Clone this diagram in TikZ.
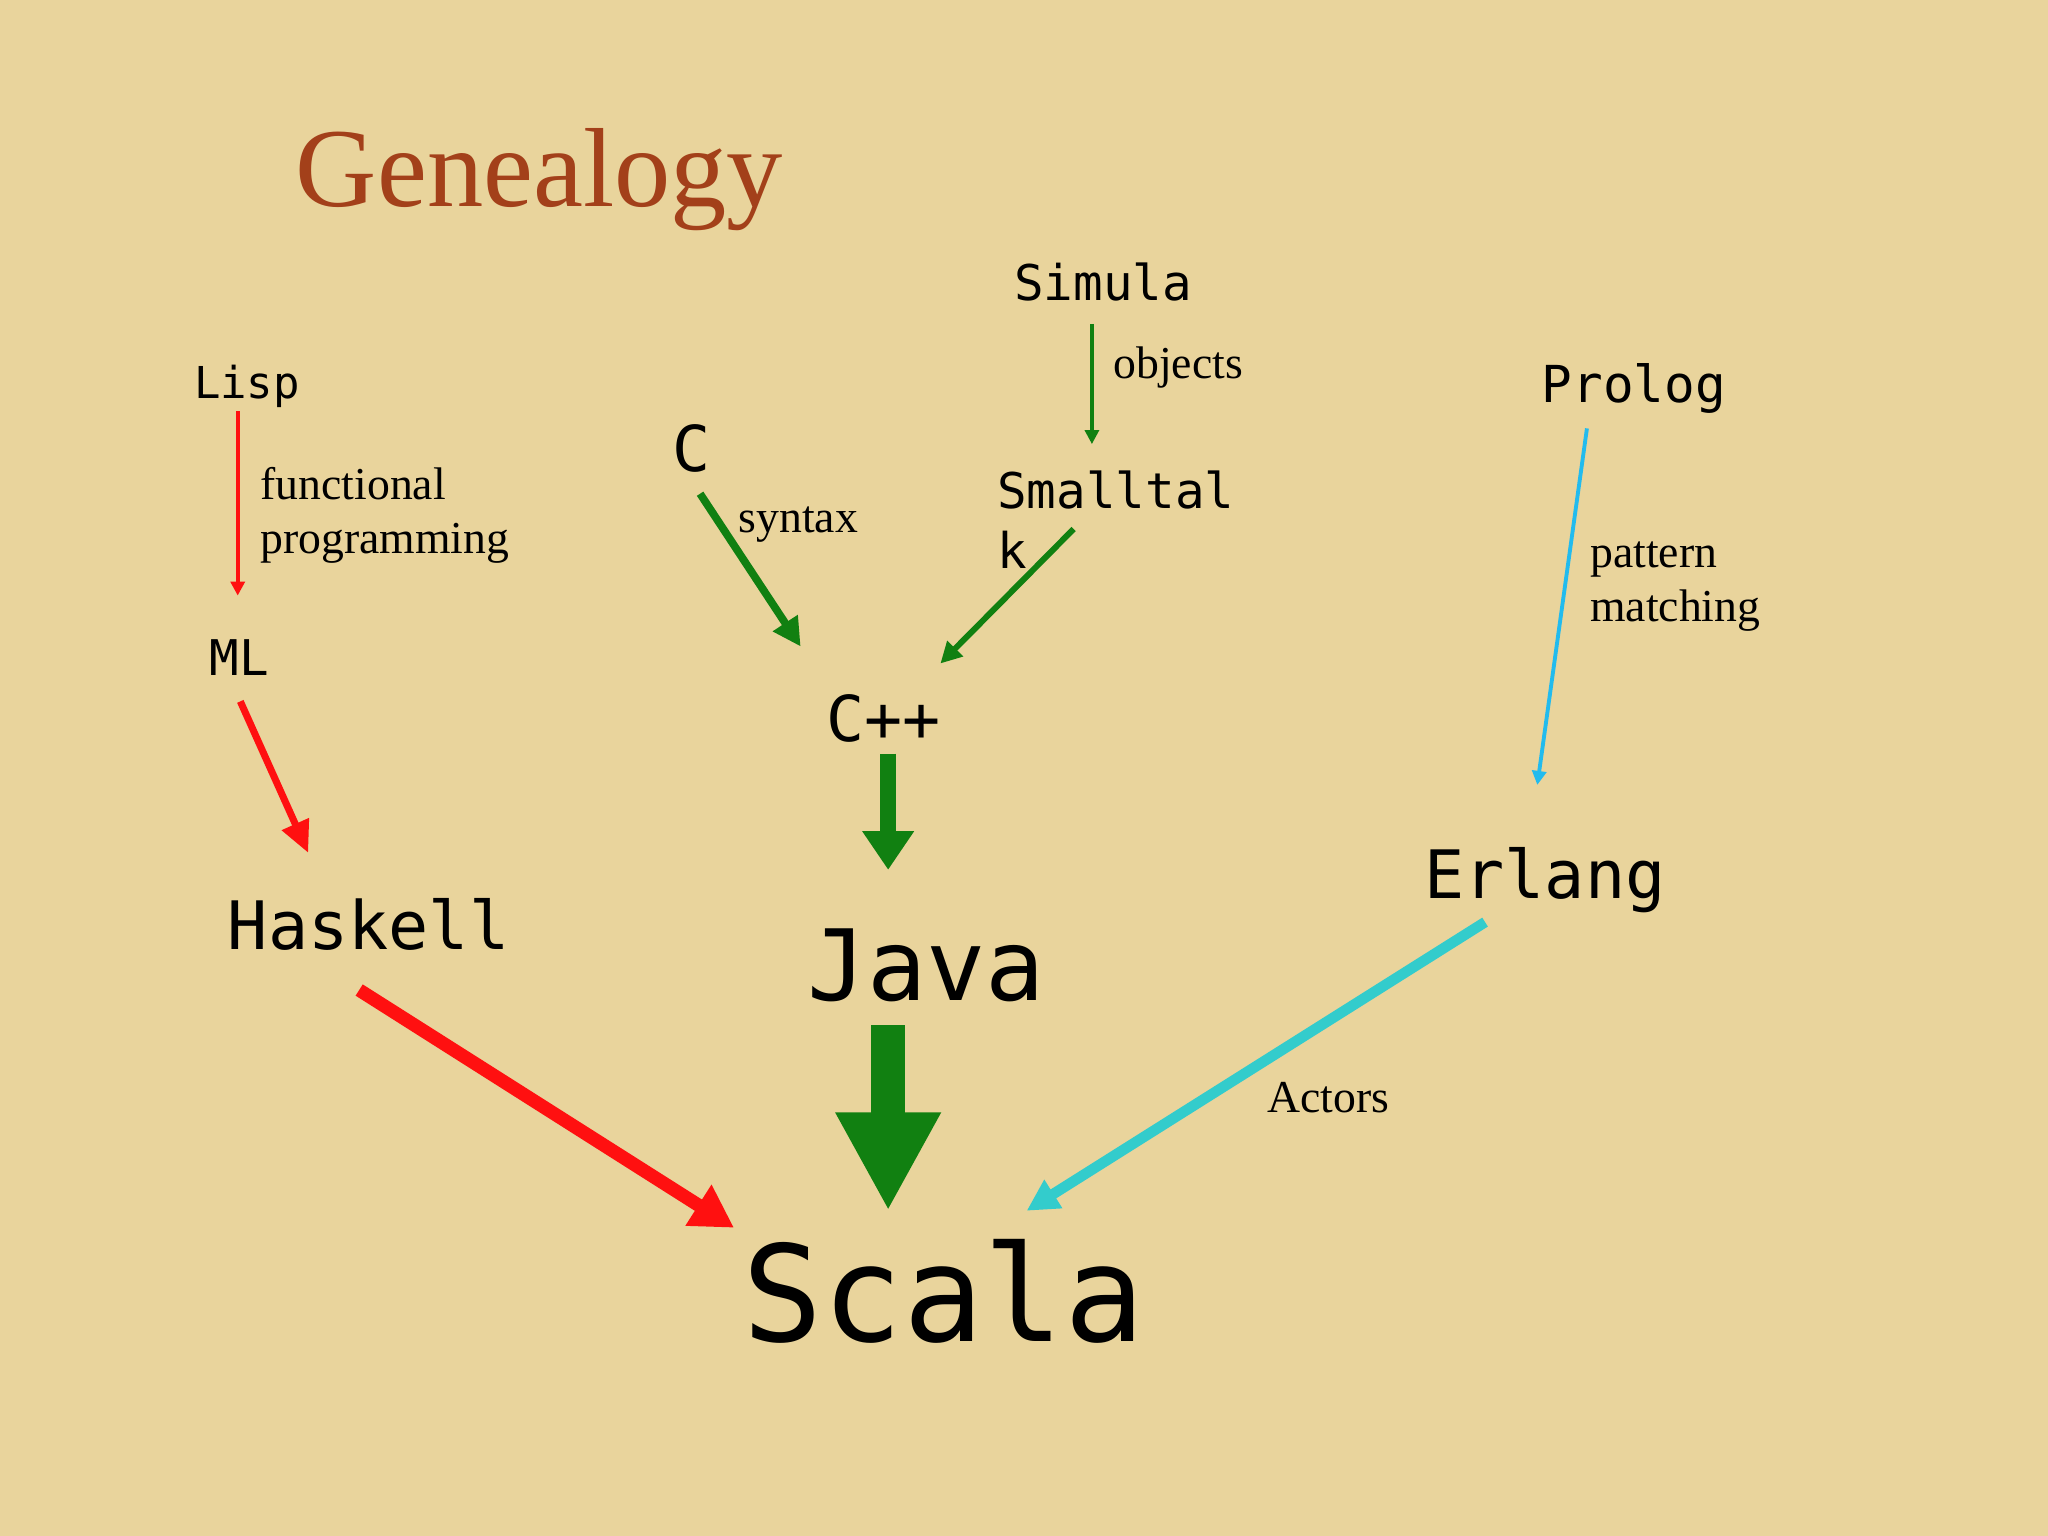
\documentclass[tikz,border=0pt]{standalone}
\usepackage{fontspec}
\setmainfont{Liberation Serif}
\newfontfamily\monof{DejaVu Sans Mono}
\usetikzlibrary{arrows.meta}
\definecolor{parch}{HTML}{E9D49C}
\definecolor{titlec}{HTML}{A3401A}
\definecolor{redc}{HTML}{FF1010}
\definecolor{greenc}{HTML}{118011}
\definecolor{cyanthin}{HTML}{22BBEE}
\definecolor{cyanc}{HTML}{33CCCC}
\tikzset{
 lang/.style={font=\monof, inner sep=0pt, anchor=base west},
 lbl/.style={font=\fontsize{13pt}{15.5pt}\selectfont, inner sep=0pt, anchor=base west, align=left},
}
\begin{document}
\begin{tikzpicture}[x=0.01306cm,y=-0.01306cm]
\fill[parch] (0,0) rectangle (1568,1176);
\useasboundingbox (0,0) rectangle (1568,1176);
\node[font=\fontsize{32pt}{36pt}\selectfont, text=titlec, inner sep=0pt, anchor=base west] (title) at (226,158) {Genealogy};
% languages
\node[lang, font=\monof\fontsize{12.5pt}{14pt}\selectfont] (lisp) at (148,305) {Lisp};
\node[lang, font=\monof\fontsize{14pt}{16pt}\selectfont] (ml) at (160,517) {ML};
\node[lang, font=\monof\fontsize{19pt}{22pt}\selectfont] (haskell) at (174,727) {Haskell};
\node[lang, font=\monof\fontsize{18pt}{20pt}\selectfont] (c) at (514,361) {C};
\node[lang, font=\monof\fontsize{14pt}{16pt}\selectfont] (simula) at (776,230) {Simula};
\node[lang, font=\monof\fontsize{14pt}{17pt}\selectfont, align=left] (small) at (763,435) {Smalltal\\k};
\node[lang, font=\monof\fontsize{18pt}{20pt}\selectfont] (cpp) at (632,568) {C++};
\node[lang, font=\monof\fontsize{28pt}{30pt}\selectfont] (java) at (618,766) {Java};
\node[lang, font=\monof\fontsize{14.5pt}{16pt}\selectfont] (prolog) at (1180,308) {Prolog};
\node[lang, font=\monof\fontsize{19pt}{22pt}\selectfont] (erlang) at (1090,688) {Erlang};
\node[lang, font=\monof\fontsize{38pt}{40pt}\selectfont] (scala) at (568,1027) {Scala};
% labels
\node[lbl] (lfun) at (199,424) {functional\\programming};
\node[lbl] (lsyn) at (565,408) {syntax};
\node[lbl] (lobj) at (852,290) {objects};
\node[lbl] (lpat) at (1217,476) {pattern\\matching};
\node[lbl] (lact) at (970,852) {Actors};
% arrow endpoints
\coordinate (a1) at (182,315); \coordinate (b1) at (182,456);
\coordinate (a2) at (184,537); \coordinate (b2) at (236,653);
\coordinate (a3) at (275,758); \coordinate (b3) at (562,940);
\coordinate (a4) at (536,378); \coordinate (b4) at (613,495);
\coordinate (a5) at (822,405); \coordinate (b5) at (720,508);
\coordinate (a6) at (836,248); \coordinate (b6) at (836,340);
\coordinate (a7) at (680,577); \coordinate (b7) at (680,666);
\coordinate (a8) at (680,785); \coordinate (b8) at (680,927);
\coordinate (a9) at (1215,328); \coordinate (b9) at (1177,601);
\coordinate (a10) at (1137,706); \coordinate (b10) at (786,927);
\draw[redc, line width=1.1pt, -{Triangle[length=4pt,width=4pt]}] (a1) -- (b1);
\draw[redc, line width=2pt, -{Triangle[length=9pt,width=8pt]}] (a2) -- (b2);
\draw[redc, line width=3.8pt, -{Triangle[length=12pt,width=13pt]}] (a3) -- (b3);
\draw[greenc, line width=2.2pt, -{Triangle[length=8pt,width=8pt]}] (a4) -- (b4);
\draw[greenc, line width=1.7pt, -{Triangle[length=6pt,width=6pt]}] (a5) -- (b5);
\draw[greenc, line width=0.9pt, -{Triangle[length=4pt,width=4pt]}] (a6) -- (b6);
\draw[greenc, line width=4.4pt, -{Triangle[length=11pt,width=14pt]}] (a7) -- (b7);
\draw[greenc, line width=9.6pt, -{Triangle[length=28pt,width=28pt]}] (a8) -- (b8);
\draw[cyanthin, line width=1.1pt, -{Triangle[length=4pt,width=4pt]}] (a9) -- (b9);
\draw[cyanc, line width=3pt, -{Triangle[length=9pt,width=9pt]}] (a10) -- (b10);
\end{tikzpicture}
\end{document}
